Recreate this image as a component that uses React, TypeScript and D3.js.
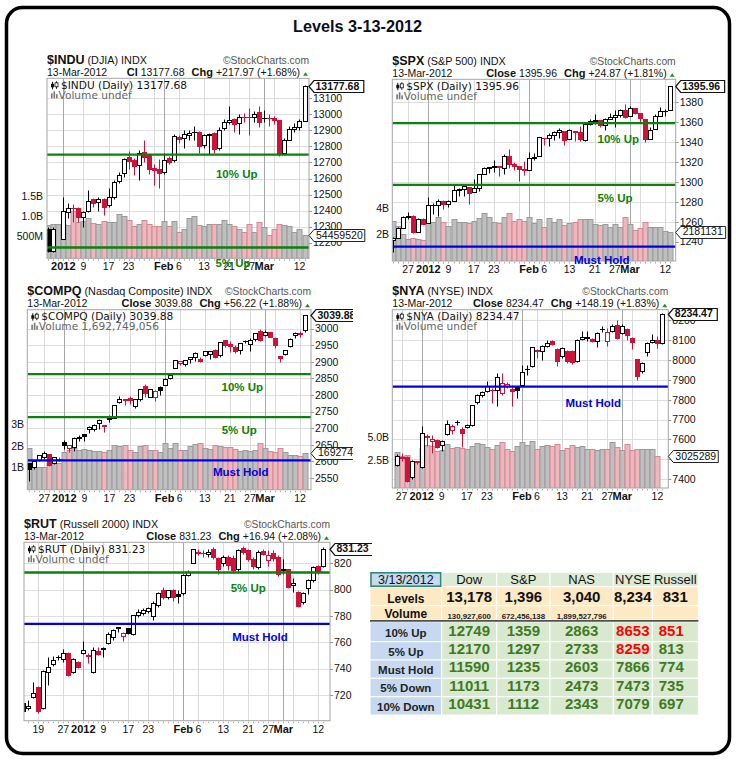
import React from "react";
import * as d3 from "d3";

// ---------- calendar ----------
const DAYS = [
  "12-14","12-15","12-16","12-19","12-20","12-21","12-22","12-23","12-27","12-28","12-29","12-30",
  "01-03","01-04","01-05","01-06","01-09","01-10","01-11","01-12","01-13","01-17","01-18","01-19","01-20",
  "01-23","01-24","01-25","01-26","01-27","01-30","01-31",
  "02-01","02-02","02-03","02-06","02-07","02-08","02-09","02-10","02-13","02-14","02-15","02-16","02-17",
  "02-21","02-22","02-23","02-24","02-27","02-28","02-29",
  "03-01","03-02","03-05","03-06","03-07","03-08","03-09","03-12","03-13",
];
const X_LABELS = [
  { d: "12-19", t: "19" }, { d: "12-27", t: "27" }, { d: "01-03", t: "2012", b: true },
  { d: "01-09", t: "9" }, { d: "01-17", t: "17" }, { d: "01-23", t: "23" },
  { d: "02-01", t: "Feb", b: true }, { d: "02-06", t: "6" }, { d: "02-13", t: "13" },
  { d: "02-21", t: "21" }, { d: "02-27", t: "27" }, { d: "03-01", t: "Mar", b: true }, { d: "03-12", t: "12" },
];
const GRID_WEEKS = ["12-19","12-27","01-09","01-17","01-23","01-30","02-06","02-13","02-21","02-27","03-05","03-12"];
const GRID_MONTHS = ["01-03","02-01","03-01"];
const DATE_STR = "13-Mar-2012";

// ---------- $INDU ----------
const INDU_START = "12-28";
const INDU_OHLC = [
  [12288,12300,12140,12151],[12151,12300,12140,12287],null,
  [12221,12487,12221,12397],[12392,12445,12352,12418],[12418,12440,12330,12416],[12414,12420,12330,12360],
  [12362,12400,12300,12393],[12398,12528,12393,12462],[12472,12480,12420,12449],[12452,12485,12400,12471],
  [12470,12480,12372,12422],[12435,12540,12420,12482],[12487,12591,12470,12579],[12584,12640,12570,12624],
  [12632,12730,12610,12720],[12736,12770,12660,12709],[12715,12730,12620,12676],[12684,12775,12590,12757],
  [12767,12840,12700,12735],[12747,12750,12630,12660],[12668,12690,12560,12654],[12660,12720,12539,12633],
  [12643,12760,12630,12716],[12726,12740,12690,12705],[12715,12880,12705,12862],[12861,12870,12820,12845],
  [12850,12900,12790,12878],[12870,12900,12840,12884],[12893,12930,12840,12890],[12892,12895,12760,12801],
  [12809,12880,12790,12874],[12870,12885,12750,12878],[12882,12890,12760,12781],[12788,12920,12780,12904],
  [12913,12970,12900,12950],[12954,13050,12940,12966],[12971,12975,12890,12939],[12944,13000,12880,12985],
  [12985,13010,12950,12983],[12981,13037,12871,12981],[12985,13020,12950,13005],[13017,13050,12920,12952],
  [12979,13030,12950,12980],[12980,13000,12930,12978],[12975,12990,12940,12963],[12965,12965,12740,12759],
  [12759,12850,12745,12837],[12840,12930,12838,12908],[12910,12945,12890,12922],[12922,12970,12900,12959.71],
  [12960,13180,12960,13177.68],
];
const INDU_VOL = [
  0.78,0.8,0.8,
  0.81,0.79,1.12,0.85,0.89,0.95,0.83,0.81,0.89,0.86,0.86,1.06,1.0,0.92,0.76,0.8,0.92,0.8,0.76,0.76,
  0.89,0.76,0.89,0.62,0.7,0.95,1.01,0.78,0.76,0.8,0.8,0.81,0.92,0.81,0.76,0.68,0.62,0.8,0.62,0.85,
  0.73,0.54,0.68,0.8,0.78,0.76,0.62,0.68,0.5446,
];

// ---------- $SPX ----------
const SPX_START = "12-21";
const SPX_OHLC = [
  [1241.3,1245,1229.5,1243.7],[1243.7,1255.2,1243.7,1254.0],[1254,1265.4,1254,1265.3],[1265,1269.5,1262.3,1265.4],
  [1265.4,1267,1248.6,1249.6],[1249.8,1263.5,1249.8,1263.0],[1262.8,1264,1257.6,1257.6],
  [1258.9,1284.6,1258.9,1277.1],[1277,1278.7,1268,1277.3],[1277.3,1283,1265.7,1281.1],[1281,1281.8,1273.3,1277.8],
  [1277.8,1281.9,1274.5,1280.7],[1280.8,1296.5,1280.8,1292.1],[1292,1293.8,1285.4,1292.5],[1292.5,1296.8,1285.8,1295.5],
  [1294.8,1294.8,1277.6,1289.1],[1290.2,1303,1290.2,1293.7],[1293.7,1308.1,1290.9,1308.0],[1308.1,1315.5,1308.1,1314.5],
  [1314.5,1315.4,1309.2,1315.4],[1315.3,1322.3,1309.9,1316.0],[1315.9,1315.9,1306.1,1314.7],[1314.4,1328.3,1307.7,1326.1],
  [1326.3,1333.5,1313.6,1318.4],[1318.2,1320.1,1311.7,1316.3],[1316.2,1316.2,1300.5,1313.0],[1313.5,1321.4,1306.7,1312.4],
  [1312.5,1330.5,1312.5,1324.1],[1324.2,1329.2,1321.6,1325.5],[1326.2,1345.3,1326.2,1344.9],[1344.3,1344.4,1337.5,1344.3],
  [1344.3,1349.2,1335.9,1347.1],[1347.0,1351.0,1341.9,1350.0],[1350.0,1354.3,1344.6,1352.0],[1351.2,1351.2,1337.4,1342.6],
  [1343.1,1353.3,1343.1,1351.8],[1351.3,1351.3,1340.8,1350.5],[1350.5,1355.9,1341.0,1343.2],[1342.6,1359.0,1341.2,1358.0],
  [1358.1,1363.4,1357.2,1361.2],[1361.2,1367.8,1358.1,1362.2],[1362.1,1362.7,1355.5,1357.7],[1357.5,1364.2,1352.3,1363.5],
  [1363.5,1368.9,1363.5,1365.7],[1365.2,1371.9,1354.9,1367.6],[1367.6,1373.1,1365.0,1372.2],[1372.2,1378.0,1363.8,1365.7],
  [1365.9,1376.2,1365.9,1374.1],[1374.1,1374.5,1368.0,1369.6],[1369.6,1369.6,1359.1,1364.3],[1363.6,1363.6,1340.0,1343.4],
  [1343.4,1354.9,1343.4,1352.6],[1352.7,1368.7,1352.7,1365.9],[1366.0,1374.8,1365.9,1370.9],[1370.8,1373.0,1366.7,1371.09],
  [1371.9,1396.0,1371.9,1395.96],
];
const SPX_VOL = [
  3.0,2.6,2.0,1.6,1.7,1.6,1.5,
  2.83,2.96,3.35,2.9,2.6,3.17,2.9,2.9,2.83,3.0,3.27,3.6,3.35,2.9,2.83,3.35,3.6,3.0,3.2,3.0,
  3.3,2.83,3.17,2.57,3.27,2.9,3.2,2.7,2.83,2.96,3.17,3.17,3.17,2.76,2.7,2.76,2.57,2.76,2.57,3.3,
  2.76,2.3,2.5,2.96,2.57,2.57,2.57,2.2,2.181,
];

// ---------- $COMPQ ----------
const COMPQ_START = "12-21";
const COMPQ_OHLC = [
  [2593.5,2594,2541.5,2578.0],[2582,2601,2578,2599.5],[2603,2619,2601,2618.6],[2612,2632,2608,2625.2],
  [2623,2623,2586,2590.0],[2596,2614,2592,2613.7],[2607,2614,2600,2605.2],
  [2657,2665,2636,2648.7],[2639,2649,2628,2648.4],[2642,2672,2631,2669.9],[2671,2679,2660,2674.2],
  [2682,2682,2662,2676.6],[2697,2707,2686,2702.5],[2697,2714,2692,2710.8],[2716,2728,2697,2724.7],
  [2705,2711,2688,2710.7],[2734,2739,2720,2728.1],[2732,2770,2731,2769.7],[2778,2796,2776,2788.3],
  [2785,2787,2771,2786.7],[2792,2796,2772,2784.2],[2768,2789,2762,2786.6],[2789,2819,2783,2818.3],
  [2826,2834,2795,2805.3],[2794,2818,2794,2816.6],[2793,2814,2783,2811.9],[2824,2826,2801,2813.8],
  [2830,2851,2830,2848.3],[2850,2865,2847,2859.7],[2880,2906,2880,2905.7],[2898,2902,2891,2902.0],
  [2894,2906,2887,2904.1],[2908,2916,2898,2915.9],[2915,2930,2904,2927.2],[2910,2915,2899,2903.9],
  [2921,2933,2917,2931.4],[2923,2933,2909,2931.8],[2937,2940,2911,2915.8],[2920,2961,2915,2959.9],
  [2965,2966,2946,2951.8],[2955,2962,2931,2948.6],[2945,2950,2928,2933.2],[2936,2958,2925,2957.0],
  [2962,2966,2956,2963.8],[2953,2972,2934,2966.2],[2968,2987,2963,2986.8],[2992,3000,2963,2966.9],
  [2982,2997,2977,2989.0],[2990,2990,2974,2976.2],[2973,2976,2942,2950.5],[2917,2917,2900,2910.3],
  [2925,2937,2921,2935.7],[2948,2972,2946,2970.4],[2981,2990,2971,2988.3],[2988,2992,2975,2983.66],
  [2995,3040,2991,3039.88],
];
const COMPQ_VOL = [
  1.9,1.0,1.0,1.0,1.2,1.2,1.2,
  1.7,1.8,1.9,1.8,1.85,1.8,1.75,1.75,1.7,1.8,2.05,2.0,2.05,1.8,1.7,2.0,2.05,1.8,1.8,1.7,
  2.15,1.9,2.15,1.8,1.8,2.0,2.1,2.15,1.9,1.85,2.05,2.0,1.95,1.95,1.85,1.75,1.8,1.75,1.8,2.15,
  1.9,1.75,1.7,1.9,1.7,1.6,1.6,1.55,1.69,
];

// ---------- $NYA ----------
const NYA_START = "12-23";
const NYA_OHLC = [
  [7472,7525,7465,7518],[7512,7530,7490,7508],[7510,7515,7383,7392],[7408,7495,7400,7492],[7490,7492,7478,7484],
  [7460,7666,7455,7632],[7618,7627,7565,7614],[7593,7624,7531,7604],[7595,7600,7555,7560],[7573,7598,7543,7593],
  [7627,7700,7620,7679],[7649,7680,7627,7666],[7686,7696,7674,7688],[7654,7660,7561,7632],[7660,7680,7655,7674],
  [7674,7775,7670,7772],[7787,7830,7780,7826],[7822,7842,7815,7839],[7846,7896,7840,7868],[7851,7858,7785,7848],
  [7849,7933,7770,7916],[7834,7933,7825,7884],[7868,7890,7860,7880],[7854,7876,7770,7842],[7862,7866,7808,7851],
  [7876,7973,7870,7938],[7955,7973,7926,7957],[7969,8066,7965,8064],[8053,8058,8010,8044],[8048,8078,8002,8073],
  [8070,8103,8065,8086],[8098,8103,8075,8081],[8056,8060,7969,7994],[8019,8065,8010,8061],[8048,8052,7985,7995],
  [8046,8050,7980,7988],[7997,8105,7990,8103],[8107,8148,8100,8116],[8110,8148,8095,8118],[8107,8112,8090,8095],
  [8095,8140,8066,8137],[8155,8170,8140,8157],[8098,8162,8070,8140],[8145,8182,8140,8170],[8179,8204,8105,8112],
  [8137,8182,8130,8170],[8157,8160,8103,8128],[8112,8115,8058,8090],[8006,8008,7901,7921],[7943,7990,7935,7985],
  [8039,8090,8022,8086],[8090,8132,8085,8103],[8103,8120,8061,8086.28],[8086,8236,8080,8234.47],
];
const NYA_VOL = [
  3.4,3.0,3.1,2.5,2.5,
  3.9,4.2,4.1,3.5,3.6,4.3,3.9,4.0,3.9,3.8,4.1,4.4,4.3,4.0,3.8,4.2,4.5,3.8,3.5,4.1,
  4.5,4.2,4.6,3.7,4.1,4.2,4.1,4.3,3.6,3.9,4.2,4.0,4.1,3.8,3.8,3.6,3.8,3.8,4.5,4.0,
  3.6,4.3,3.6,3.8,3.7,3.7,3.7,3.025,null,
];

// ---------- $RUT ----------
const RUT_START = "12-14";
const RUT_OHLC = [
  [714,716,705,708],[710.5,716,708.5,711.5],[718.2,730,717.5,721.8],[726,727,706,707.5],[710,739,709,738.5],
  [737.2,749,727.5,741.5],[743.5,749.6,742,746.6],[748.5,750.4,746.6,749.1],[747.1,754.7,745,751.6],
  [752,753,734.5,735.5],[737.7,748,737,747.1],[745.3,746,740.5,741.5],
  [751.6,761,751,754.2],[750.5,751.6,744,749.9],[737.7,756.7,737,754.2],[753.7,756.7,750,751],[755,756.7,749.1,755.4],
  [759.7,768,759,766.3],[763.8,770,762,769.4],[770.6,772,768,771.9],[764.8,768,761.3,766.8],[770.6,771,766,767.3],
  [766.3,781,765.5,780.7],[780.5,785,779,783],[782,786,781,784.5],[784,787,782,786],[780,791,777,789.6],
  [788.3,798,787,797.7],[799.7,802,793,794.2],[794.2,800,793,799.5],[799.7,800.5,791,794.2],[796.7,800,790,795],
  [797.7,812,796,810.9],[810.9,815,810,813.6],[820.5,831,820,830.6],[828.8,831,826,828],[828,830,825,827.5],
  [827.1,831,825,828.8],[830.6,832,823,825],[823.8,825,812,815.4],[820.5,826,818,825],[825,826.5,815,818.7],
  [823.8,826,813,814.9],[815.4,831,814,830.1],[831.4,833,827,828.8],[830.1,831,822,823],[823,825,816,818],
  [817.4,830,816,828.8],[829.6,831,826,827],[822.5,830,818,826.5],[827.6,830,822,823.8],[825,826,810,811.9],
  [815.2,823,812,815.4],[815.4,816,801,802.2],[803.5,809,798,805.3],[798.5,799,787,787.6],[790.9,798,789,797.7],
  [801,808,797,807.3],[807.3,818,806,817.4],[817.9,819,812,814.29],[818,832,817,831.23],
];

// ---------- price-axis ticks ----------
const INDU_TICKS = [12200,12300,12400,12500,12600,12700,12800,12900,13000,13100];
const SPX_TICKS = [1240,1260,1280,1300,1320,1340,1360,1380];
const COMPQ_TICKS = [2550,2600,2650,2700,2750,2800,2850,2900,2950,3000];
const NYA_TICKS = [7400,7500,7600,7700,7800,7900,8000,8100,8200];
const RUT_TICKS = [720,740,760,780,800,820];
const INDU_VTICKS = [{ v: 1.5, t: "1.5B" }, { v: 1.0, t: "1.0B" }, { v: 0.5, t: "500M" }];
const SPX_VTICKS = [{ v: 4, t: "4B" }, { v: 2, t: "2B" }];
const COMPQ_VTICKS = [{ v: 3, t: "3B" }, { v: 2, t: "2B" }, { v: 1, t: "1B" }];
const NYA_VTICKS = [{ v: 5, t: "5.0B" }, { v: 2.5, t: "2.5B" }];

// ---------- table ----------
const TABLE_DATE = "3/13/2012";
const TABLE_COLS = ["Dow", "S&P", "NAS", "NYSE", "Russell"];
const LEVELS = ["13,178", "1,396", "3,040", "8,234", "831"];
const VOLUMES = ["130,927,600", "672,456,138", "1,899,527,796", "", ""];
const ROW_LABELS = ["10% Up", "5% Up", "Must Hold", "5% Down", "10% Down"];
const ROW_VALUES = [
  [12749, 1359, 2863, 8653, 851],
  [12170, 1297, 2733, 8259, 813],
  [11590, 1235, 2603, 7866, 774],
  [11011, 1173, 2473, 7473, 735],
  [10431, 1112, 2343, 7079, 697],
];
const RED_CELLS = ["0-3", "0-4", "1-3"];

// ---------- styles ----------
const FONT = "'Liberation Sans', Arial, Helvetica, sans-serif";
const LEG_FONT = "'DejaVu Sans', Verdana, sans-serif";
const RED = "#d2113b";
const GREEN_LINE = "#0b820b";
const BLUE_LINE = "#0000e6";
const VOL_GRAY = "#bfbfbf", VOL_GRAY_S = "#9a9a9a";
const VOL_PINK = "#ecb7bd", VOL_PINK_S = "#d38893";

const dayNo = (d: string) => DAYS.indexOf(d) - DAYS.indexOf("01-03");

const PANELS = [
  {
    key: "indu", sym: "$INDU", name: "(DJIA)", closeLbl: "Cl", chg: "+217.97 (+1.68%)",
    volLegend: "Volume undef", start: INDU_START, ohlc: INDU_OHLC, vol: INDU_VOL, volTag: "54459520",
    plot: { l: 47, t: 78.3, r: 309, b: 258.3 }, py: [13100, 98.3, 12200, 242.7], ticks: INDU_TICKS,
    xs: [63.3, 264.3], vy: [1.5, 196, 0.5, 236.7], vticks: INDU_VTICKS, vlx: 43,
    levels: [{ row: 0, col: 0, lx: 236.7, ly: 174.3 }, { row: 1, col: 0, lx: 233, ly: 263 }], clipR: 372,
  },
  {
    key: "spx", sym: "$SPX", name: "(S&P 500)", closeLbl: "Close", chg: "+24.87 (+1.81%)",
    volLegend: "Volume undef", start: SPX_START, ohlc: SPX_OHLC, vol: SPX_VOL, volTag: "2181131",
    plot: { l: 392.3, t: 79.3, r: 675.7, b: 261 }, py: [1380, 102.3, 1240, 241.7], ticks: SPX_TICKS,
    xs: [428.3, 630], vy: [4, 208.3, 2, 234], vticks: SPX_VTICKS, vlx: 389,
    levels: [{ row: 0, col: 1, lx: 618.3, ly: 139 }, { row: 1, col: 1, lx: 615, ly: 197.7 }, { row: 2, col: 1, lx: 601.7, ly: 260 }],
    clipR: 736,
  },
  {
    key: "compq", sym: "$COMPQ", name: "(Nasdaq Composite)", closeLbl: "Close", chg: "+56.22 (+1.88%)",
    volLegend: "Volume 1,692,749,056", start: COMPQ_START, ohlc: COMPQ_OHLC, vol: COMPQ_VOL, volTag: "1692749056",
    plot: { l: 27.3, t: 309.7, r: 311, b: 489.7 }, py: [3000, 328.7, 2600, 461.3], ticks: COMPQ_TICKS,
    xs: [64.3, 265], vy: [3, 424.7, 1, 467.3], vticks: COMPQ_VTICKS, vlx: 24,
    levels: [{ row: 0, col: 2, lx: 242.3, ly: 387 }, { row: 1, col: 2, lx: 239.3, ly: 430.3 }, { row: 2, col: 2, lx: 240.7, ly: 472 }],
    clipR: 353,
  },
  {
    key: "nya", sym: "$NYA", name: "(NYSE)", closeLbl: "Close", chg: "+148.19 (+1.83%)",
    volLegend: "Volume undef", start: NYA_START, ohlc: NYA_OHLC, vol: NYA_VOL, volTag: "3025289",
    plot: { l: 392.3, t: 309.7, r: 668.3, b: 488 }, py: [8100, 340.3, 7400, 479], ticks: NYA_TICKS,
    xs: [421.7, 622.3], vy: [5, 437.3, 2.5, 460.7], vticks: NYA_VTICKS, vlx: 389,
    levels: [{ row: 2, col: 3, lx: 593.3, ly: 403.3 }], clipR: 736,
  },
  {
    key: "rut", sym: "$RUT", name: "(Russell 2000)", closeLbl: "Close", chg: "+16.94 (+2.08%)",
    volLegend: "Volume undef", start: RUT_START, ohlc: RUT_OHLC, vol: null, volTag: null,
    plot: { l: 24, t: 542.3, r: 330, b: 720.7 }, py: [820, 563.3, 720, 695], ticks: RUT_TICKS,
    xs: [83.3, 283.3], vy: null, vticks: [], vlx: 20,
    levels: [{ row: 1, col: 4, lx: 248.3, ly: 588.3 }, { row: 2, col: 4, lx: 260, ly: 637 }], clipR: 372,
  },
];

function tagPath(x: number, y: number, w: number, h: number) {
  return `M${x},${y} L${x + 5},${y - h / 2} L${x + 5 + w},${y - h / 2} L${x + 5 + w},${y + h / 2} L${x + 5},${y + h / 2} Z`;
}

function Panel({ c }: any) {
  const { l, t, r, b } = c.plot;
  const x = d3.scaleLinear().domain([0, 40]).range(c.xs);
  const y = d3.scaleLinear().domain([c.py[0], c.py[2]]).range([c.py[1], c.py[3]]);
  const vy = c.vy ? d3.scaleLinear().domain([c.vy[0], c.vy[2]]).range([c.vy[1], c.vy[3]]) : null;
  const s = dayNo(c.start);
  let prev: number | null = null;
  const items = c.ohlc.map((d: any, k: number) => {
    const i = s + k;
    const v = c.vol ? c.vol[k] : null;
    if (!d) return { i, v, down: false, missing: true };
    const [o, h, lo, cl] = d;
    const down = prev !== null && cl < prev;
    prev = cl;
    return { i, v, o, h, lo, cl, down, missing: false };
  });
  const px = (i: number) => Math.round(x(i)) + 0.5;
  const py = (p: number) => Math.round(y(p)) + 0.5;
  const clipId = `clip-${c.key}`;
  const pClip = `pclip-${c.key}`;
  const inX = (i: number) => x(i) >= l && x(i) <= r;
  const lastClose = items.filter((it: any) => !it.missing).slice(-1)[0].cl;
  const volItems = items.filter((it: any) => it.v != null);
  const lastVol = volItems.length ? volItems[volItems.length - 1].v : null;
  const closeStr = lastClose.toFixed(2);
  const allDays = DAYS.map(dayNo).filter(inX);
  const tagYs = [y(lastClose)];
  if (vy && c.volTag && lastVol != null) tagYs.push(vy(lastVol));
  const hiddenByTag = (v: number) => tagYs.some((ty) => Math.abs(ty - y(v)) < 5);

  return (
    <g clipPath={`url(#${pClip})`}>
      <defs>
        <clipPath id={clipId}><rect x={l} y={t} width={r - l} height={b - t} /></clipPath>
        <clipPath id={pClip}><rect x={0} y={0} width={c.clipR} height={760} /></clipPath>
      </defs>
      {/* header */}
      <text x={l} y={t - 14.5} fontFamily={FONT} fontSize={12.5} fontWeight="bold" fill="#111">
        {c.sym}
        <tspan fontWeight="normal" fontSize={10.8} dx={3}>{c.name}</tspan>
        <tspan fontWeight="normal" fontSize={10.8} dx={3}>INDX</tspan>
      </text>
      <text x={r} y={t - 14.5} textAnchor="end" fontFamily={FONT} fontSize={10.3} fill="#555">©StockCharts.com</text>
      <text x={l} y={t - 2.5} fontFamily={FONT} fontSize={10.5} fill="#111">{DATE_STR}</text>
      <text x={r - 9} y={t - 2.5} textAnchor="end" fontFamily={FONT} fontSize={10.5} fill="#111">
        <tspan fontWeight="bold" fontSize={11}>{c.closeLbl}</tspan>
        <tspan dx={3}>{closeStr}</tspan>
        <tspan dx={7} fontWeight="bold" fontSize={11}>Chg</tspan>
        <tspan dx={3}>{c.chg}</tspan>
      </text>
      <polygon points={`${r - 6},${t - 2.5} ${r - 1},${t - 2.5} ${r - 3.5},${t - 6}`} fill="#2a8a2a" />

      {/* plot */}
      <rect x={l} y={t} width={r - l} height={b - t} fill="#fff" />
      <g clipPath={`url(#${clipId})`}>
        {c.ticks.map((v: number) => (
          <line key={"h" + v} x1={l} x2={r} y1={py(v)} y2={py(v)} stroke="#dedede" strokeWidth={1} />
        ))}
        {GRID_WEEKS.map((d) => (
          <line key={"w" + d} x1={px(dayNo(d))} x2={px(dayNo(d))} y1={t} y2={b} stroke="#dadada" strokeWidth={1} />
        ))}
        {GRID_MONTHS.map((d) => (
          <line key={"m" + d} x1={px(dayNo(d))} x2={px(dayNo(d))} y1={t} y2={b} stroke="#a8a8a8" strokeWidth={1} />
        ))}
        {vy && volItems.map((it: any) => {
          const yt = Math.round(vy(it.v)) + 0.5;
          const cx = px(it.i);
          return (
            <rect key={"v" + it.i} x={cx - 2.5} y={yt} width={5} height={b - yt + 2}
              fill={it.down ? VOL_PINK : VOL_GRAY} stroke={it.down ? VOL_PINK_S : VOL_GRAY_S} strokeWidth={1} />
          );
        })}
        {items.filter((it: any) => !it.missing).map((it: any) => {
          const col = it.down ? RED : "#000";
          const filled = it.cl < it.o;
          const cx = px(it.i);
          const yTop = py(Math.max(it.o, it.cl));
          const yBot = py(Math.min(it.o, it.cl));
          return (
            <g key={"c" + it.i}>
              <line x1={cx} x2={cx} y1={py(it.h)} y2={py(it.lo)} stroke={col} strokeWidth={1} />
              <rect x={cx - 2} y={yTop} width={4} height={Math.max(0.01, yBot - yTop)}
                fill={filled ? col : "#fff"} stroke={col} strokeWidth={1} />
            </g>
          );
        })}
        {c.levels.map((lv: any) => {
          const v = ROW_VALUES[lv.row][lv.col];
          const col = lv.row === 2 ? BLUE_LINE : GREEN_LINE;
          return <line key={"lv" + lv.row} x1={l} x2={r} y1={y(v)} y2={y(v)} stroke={col} strokeWidth={2.3} />;
        })}
      </g>
      {/* legend */}
      <g>
        <line x1={l + 5.5} x2={l + 5.5} y1={t + 3.5} y2={t + 11} stroke="#111" />
        <rect x={l + 4} y={t + 5.5} width={3} height={3.5} fill="#111" />
        <line x1={l + 9.5} x2={l + 9.5} y1={t + 3} y2={t + 10.5} stroke="#111" />
        <rect x={l + 8} y={t + 4.5} width={3} height={4} fill="#fff" stroke="#111" strokeWidth={0.8} />
        <text x={l + 14} y={t + 10.5} fontFamily={LEG_FONT} fontSize={10.6} fill="#111">
          {`${c.sym} (Daily) ${closeStr}`}
        </text>
        <rect x={l + 4} y={t + 15} width={1.6} height={5} fill="#777" />
        <rect x={l + 6.5} y={t + 13} width={1.6} height={7} fill="#777" />
        <rect x={l + 9} y={t + 16} width={1.6} height={4} fill="#777" />
        <text x={l + 11.5} y={t + 20.5} fontFamily={LEG_FONT} fontSize={10.6} fill="#666">{c.volLegend}</text>
      </g>
      <rect x={l} y={t} width={r - l} height={b - t} fill="none" stroke="#a5a5a5" strokeWidth={1} />
      {/* x ticks & labels */}
      {allDays.map((i: number) => (
        <line key={"xt" + i} x1={px(i)} x2={px(i)} y1={b + 1} y2={b + 2.5} stroke="#aaa" />
      ))}
      {X_LABELS.filter((d) => inX(dayNo(d.d))).map((d) => (
        <text key={"xl" + d.d} x={x(dayNo(d.d))} y={b + 11.8} textAnchor="middle" fontFamily={FONT}
          fontSize={d.b ? 11 : 10.5} fontWeight={d.b ? "bold" : "normal"} fill="#111">{d.t}</text>
      ))}
      {/* price axis */}
      {c.ticks.filter((v: number) => y(v) >= t + 3 && y(v) <= b - 1).map((v: number) => (
        <g key={"pt" + v}>
          <line x1={r} x2={r + 3} y1={py(v)} y2={py(v)} stroke="#999" />
          {!hiddenByTag(v) && (
            <text x={r + 4} y={y(v)} dy="0.36em" fontFamily={FONT} fontSize={10.5} fill="#111">{v}</text>
          )}
        </g>
      ))}
      {/* volume axis */}
      {vy && c.vticks.map((vt: any) => (
        <text key={"vt" + vt.t} x={c.vlx} y={vy(vt.v)} dy="0.36em" textAnchor="end" fontFamily={FONT} fontSize={10.5} fill="#111">{vt.t}</text>
      ))}
      {/* level labels */}
      {c.levels.map((lv: any) => (
        <text key={"ll" + lv.row} x={lv.lx} y={lv.ly} dy="0.36em" textAnchor="middle" fontFamily={FONT}
          fontSize={11.5} fontWeight="bold" fill={lv.row === 2 ? BLUE_LINE : GREEN_LINE}>{ROW_LABELS[lv.row]}</text>
      ))}
      {/* tags */}
      {vy && c.volTag && lastVol != null && (
        <g>
          <path d={tagPath(r, Math.round(vy(lastVol)) + 0.5, c.volTag.length * 5.85 + 4, 12)} fill="#fff" stroke="#222" strokeWidth={1} />
          <text x={r + 7} y={vy(lastVol)} dy="0.36em" fontFamily={FONT} fontSize={10.5} fill="#111">{c.volTag}</text>
        </g>
      )}
      <g>
        <path d={tagPath(r, py(lastClose), closeStr.length * 5.85 + 3, 12)} fill="#fff" stroke="#111" strokeWidth={1.2} />
        <text x={r + 6.5} y={y(lastClose)} dy="0.36em" fontFamily={FONT} fontSize={10.5} fontWeight="bold" fill="#111">{closeStr}</text>
      </g>
    </g>
  );
}

function Table() {
  const X = [370, 441.7, 496.7, 550, 613.3, 652.3, 698.3];
  const RY = [621.7, 641.7, 660, 678.3, 696.7, 715];
  const cx = (j: number) => (X[j] + X[j + 1]) / 2;
  const HDR = [572.3, 586.7], LVL = [586.7, 605.7], VOLR = [605.7, 620.3];
  const cells: any[] = [];
  for (let j = 0; j < 6; j++) {
    cells.push(<rect key={"h" + j} x={X[j]} y={HDR[0]} width={X[j + 1] - X[j]} height={HDR[1] - HDR[0]}
      fill={j === 0 ? "#c5d9ef" : "#dcebd4"} stroke="#fff" strokeWidth={1} />);
    cells.push(<rect key={"l" + j} x={X[j]} y={LVL[0]} width={X[j + 1] - X[j]} height={LVL[1] - LVL[0]}
      fill="#fde9c3" stroke="#fff" strokeWidth={1} />);
    cells.push(<rect key={"v" + j} x={X[j]} y={VOLR[0]} width={X[j + 1] - X[j]} height={VOLR[1] - VOLR[0]}
      fill="#fde9c3" stroke="#fff" strokeWidth={1} />);
    for (let k = 0; k < 5; k++) {
      cells.push(<rect key={`r${k}-${j}`} x={X[j]} y={RY[k]} width={X[j + 1] - X[j]} height={RY[k + 1] - RY[k]}
        fill={j === 0 ? "#c6d9f0" : "#d9e9d0"} stroke="#fff" strokeWidth={1} />);
    }
  }
  return (
    <g fontFamily={FONT}>
      {cells}
      <rect x={X[0] + 1} y={HDR[0] + 0.5} width={X[1] - X[0] - 2} height={HDR[1] - HDR[0] - 1} fill="none" stroke="#2f8b78" strokeWidth={1.6} />
      <line x1={X[0]} x2={X[6]} y1={620.9} y2={620.9} stroke="#505050" strokeWidth={1.8} />
      <text x={cx(0)} y={584} textAnchor="middle" fontSize={12.5} fill="#111">{TABLE_DATE}</text>
      {TABLE_COLS.map((t, j) => (
        <text key={t} x={cx(j + 1)} y={584} textAnchor="middle" fontSize={13} fill="#111">{t}</text>
      ))}
      <text x={cx(0)} y={602.5} textAnchor="middle" fontSize={12} fontWeight="bold" fill="#111">Levels</text>
      {LEVELS.map((t, j) => (
        <text key={"lv" + j} x={cx(j + 1)} y={601.5} textAnchor="middle" fontSize={15} fontWeight="bold" fill="#111">{t}</text>
      ))}
      <text x={cx(0)} y={618} textAnchor="middle" fontSize={12} fontWeight="bold" fill="#111">Volume</text>
      {VOLUMES.map((t, j) => (
        <text key={"vo" + j} x={cx(j + 1)} y={619} textAnchor="middle" fontSize={7.8} fontWeight="bold" fill="#222">{t}</text>
      ))}
      {ROW_LABELS.map((t, k) => (
        <text key={"rl" + k} x={cx(0)} y={RY[k + 1] - 4.3} textAnchor="middle" fontSize={11.5} fontWeight="bold" fill="#222">{t}</text>
      ))}
      {ROW_VALUES.map((row, k) => row.map((v, j) => (
        <text key={`rv${k}-${j}`} x={cx(j + 1) - (j === 4 ? 4 : 0)} y={RY[k + 1] - 6} textAnchor="middle" fontSize={15} fontWeight="bold"
          fill={RED_CELLS.includes(`${k}-${j}`) ? "#ff0000" : "#3e7b1f"}>{v}</text>
      )))}
    </g>
  );
}

export default function App() {
  return (
    <svg width={736} height={760} viewBox="0 0 736 760" style={{ position: "absolute", left: 0, top: 0, background: "#fff" }}>
      <rect x={0} y={0} width={736} height={760} fill="#fff" />
      <rect x={6.5} y={7.5} width={723} height={746} rx={16} ry={16} fill="none" stroke="#000" strokeWidth={3.5} />
      <text x={357.5} y={31.5} textAnchor="middle" fontFamily={FONT} fontSize={17} fontWeight="bold" fill="#0d0d1a"
        textLength={129} lengthAdjust="spacingAndGlyphs">Levels 3-13-2012</text>
      {PANELS.map((c) => <Panel key={c.key} c={c} />)}
      <Table />
    </svg>
  );
}
